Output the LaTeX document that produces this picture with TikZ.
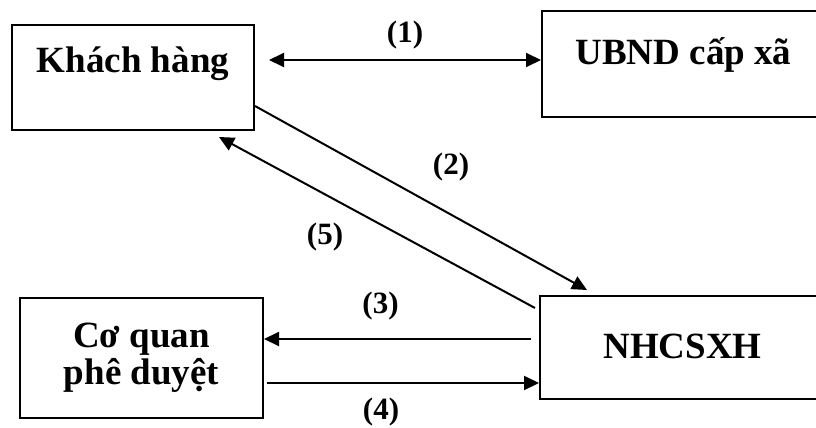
\documentclass[tikz,border=0pt]{standalone}
\usepackage{fontspec}
\setmainfont{Liberation Serif}
\usepackage{tikz}
\usetikzlibrary{arrows.meta,calc}

\tikzset{
  hop/.style={draw, line width=2pt, inner sep=0pt, anchor=north west,
    font=\fontsize{37}{37}\selectfont\bfseries},
  pil/.style={line width=2pt},
  nr/.style={font=\fontsize{31}{31}\selectfont\bfseries},
  >={Triangle[length=15pt,width=14pt]}
}

\begin{document}
\begin{tikzpicture}[x=1pt, y=-1pt]
\useasboundingbox (0,0) rectangle (816,428);
% cac o
\node[hop, minimum width=242pt, text height=48pt, text depth=57pt] (kh) at (11,24) {Khách hàng};
\node[hop, minimum width=283pt, text height=53pt, text depth=53pt] (ub) at (541,10) {UBND cấp xã};
\node[hop, minimum width=243pt, minimum height=120pt, align=center] (cq) at (19,297) {Cơ quan\\phê duyệt};
\node[hop, minimum width=285pt, text height=62pt, text depth=41pt] (nh) at (539,295) {NHCSXH};
% cac mui ten
\coordinate (a1) at ([shift={(14pt,17.5pt)}]kh.east);
\coordinate (a3) at ([shift={(-8pt,8.5pt)}]nh.west);
\coordinate (a4) at ([yshift=-35.5pt]nh.west);
\draw[pil, <->] (a1) -- (a1 -| ub.west) node[nr, midway, yshift=25pt] (n1) {(1)};
\draw[pil, ->] ([yshift=-28.5pt]kh.east) -- ([shift={(48pt,5pt)}]nh.north west)
  node[nr, midway, xshift=30pt, yshift=30.5pt] (n2) {(2)};
\draw[pil, ->] (a3) -- (a3 -| cq.east) node[nr, midway, xshift=-17pt, yshift=33pt] (n3) {(3)};
\draw[pil, ->] ([xshift=3pt]a4 -| cq.east) -- (a4) node[nr, midway, xshift=-22pt, yshift=-29pt] (n4) {(4)};
\draw[pil, ->] ([shift={(-4pt,-13pt)}]nh.north west) -- ([shift={(-36pt,-6pt)}]kh.south east)
  node[nr, midway, xshift=-52pt, yshift=-14.5pt] (n5) {(5)};
\end{tikzpicture}
\end{document}
